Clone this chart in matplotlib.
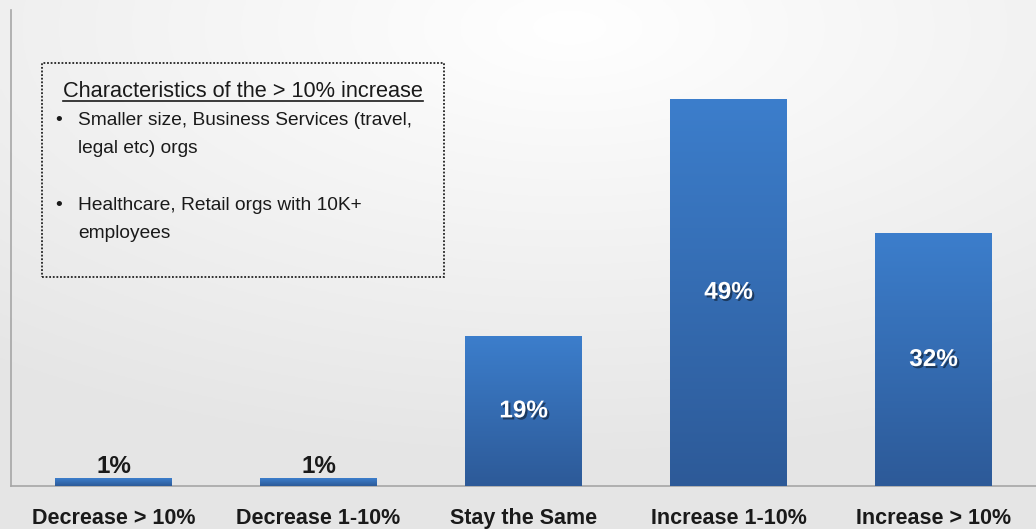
"""
Expected change in spend - bar chart with a notes box
"""

import numpy as np
import matplotlib.pyplot as plt
import matplotlib.patheffects as pe
from matplotlib.patches import Rectangle
from matplotlib.lines import Line2D


# DATA

categories = ["Decrease > 10%", "Decrease 1-10%", "Stay the Same", "Increase 1-10%", "Increase > 10%"]
values = [1, 1, 19, 49, 32]
value_labels = ["1%", "1%", "19%", "49%", "32%"]

box_title = "Characteristics of the > 10% increase"
box_bullets = [
    ["Smaller size, Business Services (travel,", "legal etc) orgs"],
    ["Healthcare, Retail orgs with 10K+", "employees"],
]


# STYLE

FONT = ["Liberation Sans", "DejaVu Sans"]
plt.rcParams["font.family"] = FONT
TOP_BLUE = np.array([60, 126, 204]) / 255
BOTTOM_BLUE = np.array([45, 90, 152]) / 255
W, H = 1036, 529


def fx(px):
    return px / W


def fy(py):
    return 1 - py / H


fig = plt.figure(figsize=(W / 100, H / 100), dpi=100)

# soft grey backdrop, lighter near the top middle
bg = fig.add_axes([0, 0, 1, 1], zorder=-10)
yy, xx = np.mgrid[0:1:200j, 0:1:400j]
dist = np.sqrt(((xx - 0.55) * 1.0) ** 2 + ((yy - 0.05) * 1.1) ** 2)
shade = 1.0 - 0.10 * np.clip(dist / 0.9, 0, 1)
bg.imshow(np.dstack([shade] * 3), aspect="auto", extent=[0, 1, 1, 0])
bg.set_axis_off()

ax = fig.add_axes([fx(11), fy(486), 1 - fx(11), fy(10) - fy(486)])
ax.patch.set_alpha(0)

x = np.arange(len(categories))
bars = ax.bar(x, values, width=0.566, color=TOP_BLUE, zorder=2)

# vertical gradient inside each bar
grad = np.linspace(0, 1, 256)[:, None]
grad_rgb = TOP_BLUE[None, None, :] * (1 - grad[..., None]) + BOTTOM_BLUE[None, None, :] * grad[..., None]
for b in bars:
    x0, w, h = b.get_x(), b.get_width(), b.get_height()
    im = ax.imshow(grad_rgb, extent=[x0, x0 + w, 0, h], aspect="auto", zorder=3,
                   origin="upper")
    im.set_clip_path(b)

ax.set_xlim(-0.5, 4.5)
ax.set_ylim(0, 60.2)

shadow = [pe.withSimplePatchShadow(offset=(1.5, -1.5), shadow_rgbFace="black", alpha=0.45)]
for xi, v, lab in zip(x, values, value_labels):
    if v < 5:
        ax.text(xi, v + 0.6, lab, ha="center", va="baseline", fontsize=17.5,
                fontweight="bold", color="#1a1a1a", zorder=5)
    else:
        ax.text(xi, v / 2, lab, ha="center", va="center", fontsize=17.5,
                fontweight="bold", color="white", zorder=5, path_effects=shadow)

ax.set_xticks(x)
ax.set_xticklabels(categories, fontsize=15.5, fontweight="bold", color="#1a1a1a")
ax.tick_params(axis="x", length=0, pad=16)
ax.set_yticks([])
for side in ["top", "right"]:
    ax.spines[side].set_visible(False)
for side in ["left", "bottom"]:
    ax.spines[side].set_color("#a6a6a6")
    ax.spines[side].set_linewidth(1.2)

# notes box
fig.patches.append(Rectangle((fx(42), fy(277)), fx(444) - fx(42), fy(63) - fy(277),
                             transform=fig.transFigure, fill=False, edgecolor="#222222",
                             linestyle=(0, (1, 1)), linewidth=1.3, zorder=6))

title = fig.text(fx(243), fy(97), box_title, ha="center", va="baseline",
                 fontsize=15.7, color="#1a1a1a", zorder=7)
fig.canvas.draw()
bb = title.get_window_extent()
fig.lines.append(Line2D([bb.x0 / W, bb.x1 / W], [fy(101), fy(101)], transform=fig.transFigure,
                        color="#1a1a1a", linewidth=1.2, zorder=7))

line_y = [[125, 153], [210, 238]]
for lines, ys in zip(box_bullets, line_y):
    fig.text(fx(55), fy(ys[0]), "\u2022", ha="left", va="baseline", fontsize=14,
             color="#1a1a1a")
    for txt, yp in zip(lines, ys):
        fig.text(fx(78), fy(yp), txt, ha="left", va="baseline", fontsize=13.8,
                 color="#1a1a1a")

plt.savefig("out.png", dpi=100)
